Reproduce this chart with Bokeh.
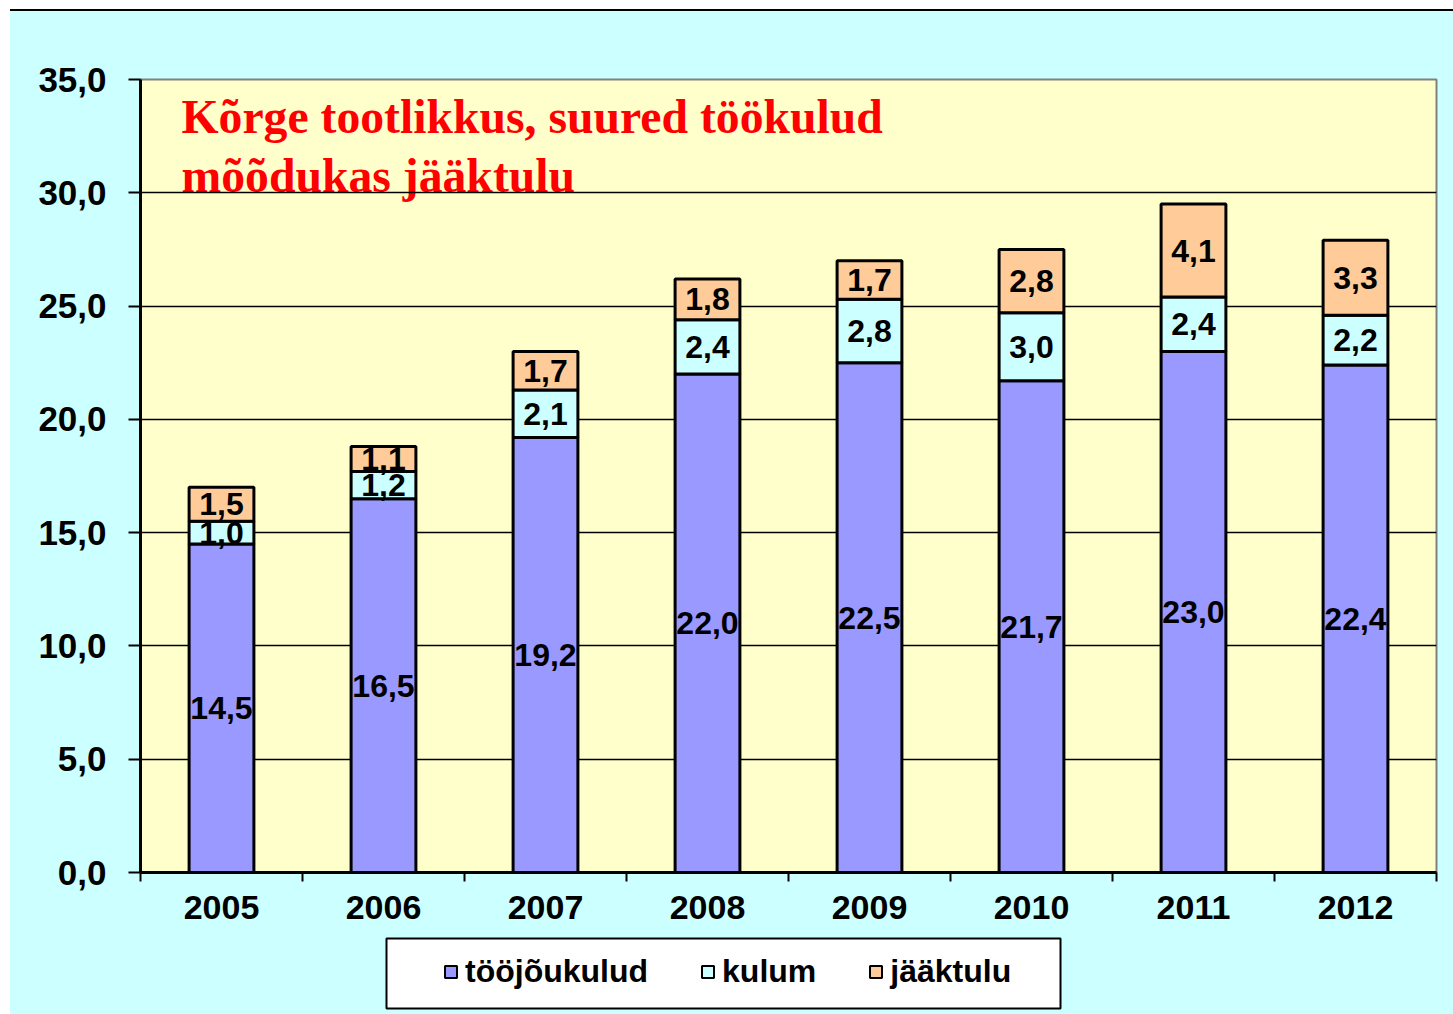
import numpy as np
from bokeh.plotting import figure
from bokeh.layouts import column
from bokeh.models import (ColumnDataSource, FixedTicker, Legend, LegendItem,
                          Label, LabelSet, Range1d, BoxAnnotation)
from bokeh.core.properties import value
from bokeh.embed import file_html
from bokeh.resources import INLINE

years = ["2005", "2006", "2007", "2008", "2009", "2010", "2011", "2012"]
toojoukulud = [14.5, 16.5, 19.2, 22.0, 22.5, 21.7, 23.0, 22.4]
kulum = [1.0, 1.2, 2.1, 2.4, 2.8, 3.0, 2.4, 2.2]
jaaktulu = [1.5, 1.1, 1.7, 1.8, 1.7, 2.8, 4.1, 3.3]
series_names = ["tööjõukulud", "kulum", "jääktulu"]
series_colors = ["#9999FF", "#CCFFFF", "#FFCC99"]
y_ticks = [0, 5, 10, 15, 20, 25, 30, 35]
y_tick_labels = ["0,0", "5,0", "10,0", "15,0", "20,0", "25,0", "30,0", "35,0"]
title_lines = ["Kõrge tootlikkus, suured töökulud", "mõõdukas jääktulu"]

n = len(years)
x = np.arange(n) + 0.5
t = np.array(toojoukulud)
k = np.array(kulum)
j = np.array(jaaktulu)

def fmt(vals):
    return [f"{v:.1f}".replace(".", ",") for v in vals]

src = ColumnDataSource(dict(
    x=x, t=t, k=k, j=j,
    t_mid=t / 2, k_mid=t + k / 2, j_mid=t + k + j / 2,
    t_lab=fmt(t), k_lab=fmt(k), j_lab=fmt(j),
))

SANS = "Liberation Sans"
SERIF = "Liberation Serif"
CYAN = "#CCFFFF"

p = figure(width=1443, height=925, output_backend="svg", toolbar_location=None,
           x_range=Range1d(0, n), y_range=Range1d(0, 35),
           min_border_left=130, min_border_top=68, min_border_right=17,
           min_border_bottom=64)
p.background_fill_color = "#FFFFCC"
p.border_fill_color = CYAN
p.outline_line_color = "#808080"
p.outline_line_width = 2

renderers = p.vbar_stack(["t", "k", "j"], x="x", width=0.4, source=src,
                         fill_color=series_colors, line_color="black", line_width=3)

for col, ycol in (("t_lab", "t_mid"), ("k_lab", "k_mid"), ("j_lab", "j_mid")):
    ls = LabelSet(x="x", y=ycol, text=col, source=src, text_align="center",
                  text_baseline="middle", text_font=value(SANS), text_font_size=value("32px"),
                  text_font_style="bold", text_color="black")
    p.add_layout(ls)

# title text inside plot area
t1 = Label(x=0.253, y=33.35, text=title_lines[0], text_font=SERIF, text_font_size="47.7px",
           text_font_style="bold", text_color="#FF0000", text_baseline="alphabetic", level="underlay")
t2 = Label(x=0.253, y=30.75, text=title_lines[1], text_font=SERIF, text_font_size="47.7px",
           text_font_style="bold", text_color="#FF0000", text_baseline="alphabetic", level="underlay")
p.add_layout(t1)
p.add_layout(t2)
others = [r for r in p.center if r is not t1 and r is not t2]
p.center = [t1, t2] + others

# y axis
p.yaxis.ticker = FixedTicker(ticks=y_ticks)
p.yaxis.major_label_overrides = {tk: lb for tk, lb in zip(y_ticks, y_tick_labels)}
p.yaxis.major_label_text_font = SANS
p.yaxis.major_label_text_font_size = "35px"
p.yaxis.major_label_text_font_style = "bold"
p.yaxis.major_label_text_color = "black"
p.yaxis.major_tick_in = 0
p.yaxis.major_tick_out = 12
p.yaxis.major_tick_line_width = 2
p.yaxis.minor_tick_line_color = None
p.yaxis.axis_line_width = 3
p.yaxis.axis_line_color = "black"
p.yaxis.major_label_standoff = 22

# x axis: labels at category centres, ticks at category boundaries
p.xaxis.ticker = FixedTicker(ticks=list(x), minor_ticks=list(range(n + 1)))
p.xaxis.major_label_overrides = {float(xx): yr for xx, yr in zip(x, years)}
p.xaxis.major_label_text_font = SANS
p.xaxis.major_label_text_font_size = "34px"
p.xaxis.major_label_text_font_style = "bold"
p.xaxis.major_label_text_color = "black"
p.xaxis.major_tick_in = 0
p.xaxis.major_tick_out = 0
p.xaxis.minor_tick_in = 0
p.xaxis.minor_tick_out = 9
p.xaxis.minor_tick_line_width = 2
p.xaxis.minor_tick_line_color = "black"
p.xaxis.axis_line_width = 3
p.xaxis.axis_line_color = "black"
p.xaxis.major_label_standoff = 14

p.xgrid.grid_line_color = None
p.ygrid.ticker = FixedTicker(ticks=y_ticks[1:-1])
p.ygrid.grid_line_color = "black"
p.ygrid.grid_line_width = 1.5

# legend strip below the chart; the series are repeated there only as legend
# proxies, drawn small and hidden underneath the white legend box
p2 = figure(width=1443, height=78, output_backend="svg", toolbar_location=None,
            x_range=Range1d(-3, 12.5), y_range=Range1d(-60, 60),
            x_axis_type=None, y_axis_type=None,
            min_border_left=0, min_border_right=0, min_border_top=0, min_border_bottom=0)
p2.background_fill_color = CYAN
p2.border_fill_color = CYAN
p2.outline_line_color = None
p2.grid.visible = False
leg_renderers = p2.vbar_stack(["t", "k", "j"], x="x", width=0.4, source=src,
                              fill_color=series_colors, line_color="black", line_width=2)

box = BoxAnnotation(left=376, right=1050, top=2, bottom=72,
                    left_units="canvas", right_units="canvas",
                    top_units="canvas", bottom_units="canvas",
                    fill_color="white", fill_alpha=1.0,
                    line_color="black", line_width=2, line_alpha=1.0)
p2.add_layout(box)

legend = Legend(items=[LegendItem(label=nm, renderers=[r]) for nm, r in zip(series_names, leg_renderers)],
                orientation="horizontal", location=(303, 24),
                label_text_font=SANS, label_text_font_size="32px", label_text_font_style="bold",
                label_text_color="black", glyph_width=15, glyph_height=15, label_standoff=7,
                spacing=52, padding=17, margin=0,
                border_line_color=None, background_fill_alpha=0.0)
p2.add_layout(legend)

layout = column(p, p2, spacing=0,
                styles={"margin-left": "10px", "margin-top": "9px",
                        "border-top": "2px solid black", "background-color": CYAN})

open("out.html", "w").write(file_html(layout, INLINE))
